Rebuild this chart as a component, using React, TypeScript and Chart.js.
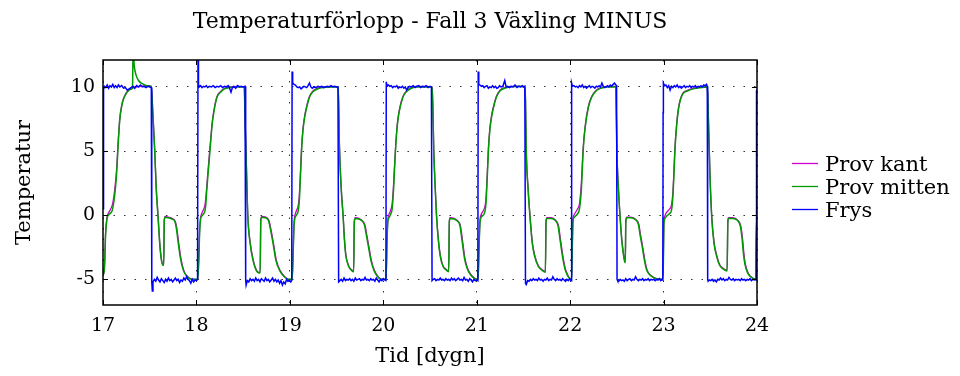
import React, { useEffect, useRef } from "react";
import { Chart, registerables } from "chart.js";

Chart.register(...registerables);

const TITLE = "Temperaturförlopp - Fall 3 Växling MINUS";
const X_LABEL = "Tid [dygn]";
const Y_LABEL = "Temperatur";
const X_TICKS = [17, 18, 19, 20, 21, 22, 23, 24];
const Y_TICKS = [-5, 0, 5, 10];
const SERIES_NAMES = ["Prov kant", "Prov mitten", "Frys"];
const SERIES_COLORS = ["#cc00cc", "#009900", "#0000ff"];

type P = [number, number];

// Prov mitten (green)
const mitten17: P[] = [[17.000,-4.7],[17.015,-4.2],[17.028,-1.5],[17.042,-0.3],[17.057,0.0],[17.08,0.15],[17.10,0.4],[17.115,1.0],[17.13,1.9],[17.146,3.3],[17.163,5.6],[17.18,7.5],[17.20,8.5],[17.217,9.0],[17.25,9.5],[17.29,9.8],[17.316,9.9],[17.322,12.9],[17.335,11.6],[17.355,10.9],[17.38,10.5],[17.42,10.25],[17.47,10.1],[17.515,10.05],[17.535,7.7],[17.553,5.1],[17.57,2.0],[17.589,-0.1],[17.607,-2.2],[17.625,-3.5],[17.643,-3.9],[17.650,-3.9],[17.656,-0.4],[17.665,-0.15],[17.70,-0.2],[17.74,-0.3],[17.77,-0.5],[17.785,-1.0],[17.806,-2.2],[17.83,-3.4],[17.86,-4.3],[17.89,-4.7],[17.93,-4.95],[17.98,-5.0]];
const mitten18: P[] = [[18.015,-5.0],[18.025,-3.5],[18.035,-1.2],[18.045,-0.3],[18.055,-0.1],[18.07,0.05],[18.09,0.3],[18.10,0.8],[18.11,1.9],[18.13,3.7],[18.15,5.5],[18.17,7.2],[18.19,8.2],[18.22,9.2],[18.26,9.6],[18.30,9.85],[18.36,9.95],[18.45,10.0],[18.512,10.0],[18.52,7.6],[18.535,3.7],[18.55,-0.1],[18.575,-2.2],[18.605,-3.5],[18.64,-4.3],[18.67,-4.5],[18.682,-4.5],[18.689,-0.4],[18.70,-0.15],[18.74,-0.2],[18.77,-0.4],[18.79,-1.0],[18.82,-2.2],[18.85,-3.5],[18.89,-4.3],[18.94,-4.8],[18.98,-5.0]];
const mitten19: P[] = [[19.025,-5.0],[19.035,-3.0],[19.045,-0.8],[19.055,-0.2],[19.07,0.0],[19.088,0.3],[19.10,1.0],[19.112,2.8],[19.125,5.0],[19.14,6.6],[19.16,7.7],[19.18,8.4],[19.21,9.2],[19.25,9.65],[19.30,9.85],[19.35,9.95],[19.45,10.0],[19.518,10.0],[19.53,5.5],[19.55,2.0],[19.57,-0.1],[19.585,-2.0],[19.60,-3.2],[19.63,-4.0],[19.66,-4.3],[19.683,-4.4],[19.69,-0.5],[19.70,-0.25],[19.74,-0.3],[19.78,-0.5],[19.80,-0.8],[19.82,-1.6],[19.84,-2.4],[19.87,-3.6],[19.90,-4.3],[19.94,-4.8],[19.98,-5.0]];
const mitten20: P[] = [[20.03,-5.0],[20.04,-2.0],[20.05,-0.4],[20.06,-0.2],[20.08,0.1],[20.095,0.5],[20.11,2.0],[20.125,4.3],[20.145,6.6],[20.16,7.6],[20.18,8.4],[20.21,9.2],[20.25,9.65],[20.30,9.9],[20.36,10.0],[20.45,10.0],[20.523,10.0],[20.53,8.5],[20.54,5.1],[20.555,2.2],[20.57,-0.1],[20.59,-2.0],[20.61,-3.2],[20.64,-4.0],[20.67,-4.25],[20.70,-4.4],[20.707,-0.5],[20.715,-0.25],[20.76,-0.3],[20.80,-0.5],[20.82,-0.8],[20.84,-1.8],[20.87,-3.4],[20.90,-4.2],[20.93,-4.6],[20.97,-4.9],[21.005,-5.0]];
const mitten21: P[] = [[21.015,-5.0],[21.025,-2.5],[21.035,-0.6],[21.045,-0.2],[21.07,0.0],[21.09,0.35],[21.10,1.0],[21.112,2.8],[21.125,5.0],[21.14,6.6],[21.16,7.7],[21.18,8.4],[21.21,9.2],[21.25,9.7],[21.30,9.9],[21.36,10.0],[21.45,10.05],[21.515,10.0],[21.522,9.0],[21.53,5.1],[21.55,2.0],[21.57,-0.1],[21.595,-2.2],[21.62,-3.2],[21.66,-4.0],[21.70,-4.3],[21.735,-4.45],[21.742,-0.5],[21.75,-0.25],[21.80,-0.25],[21.84,-0.4],[21.87,-0.8],[21.89,-1.8],[21.92,-3.3],[21.945,-4.2],[21.96,-4.5],[21.98,-4.8],[22.005,-5.0]];
const mitten22: P[] = [[22.015,-5.0],[22.022,-3.0],[22.03,-0.5],[22.04,-0.2],[22.06,-0.05],[22.08,0.1],[22.10,0.5],[22.12,2.0],[22.14,5.1],[22.16,6.8],[22.195,8.4],[22.23,9.2],[22.28,9.7],[22.33,9.9],[22.40,10.0],[22.488,10.0],[22.495,7.5],[22.50,5.1],[22.517,2.0],[22.534,-0.1],[22.552,-1.9],[22.569,-3.0],[22.583,-3.6],[22.590,-3.7],[22.596,-0.5],[22.605,-0.2],[22.65,-0.2],[22.70,-0.35],[22.73,-0.7],[22.75,-1.6],[22.77,-2.4],[22.80,-3.7],[22.82,-4.3],[22.86,-4.7],[22.92,-4.95],[22.99,-5.0]];
const mitten23: P[] = [[22.997,-4.0],[23.003,-0.8],[23.012,-0.3],[23.03,-0.1],[23.06,0.1],[23.085,0.4],[23.10,1.5],[23.11,3.0],[23.122,5.1],[23.14,7.0],[23.158,8.2],[23.18,9.0],[23.21,9.5],[23.26,9.7],[23.32,9.85],[23.40,9.95],[23.465,10.0],[23.472,9.5],[23.479,7.7],[23.497,3.0],[23.515,-0.1],[23.54,-2.2],[23.568,-3.2],[23.60,-3.9],[23.64,-4.2],[23.68,-4.35],[23.688,-0.5],[23.695,-0.25],[23.74,-0.25],[23.79,-0.4],[23.82,-0.8],[23.84,-1.8],[23.855,-3.0],[23.87,-3.8],[23.90,-4.5],[23.94,-4.85],[23.985,-5.0],[23.992,-2.0],[23.998,-0.35],[24.0,-0.3]];

// Prov kant (magenta)
const kant17: P[] = [[17.000,-4.7],[17.015,-4.1],[17.028,-1.3],[17.042,-0.2],[17.057,0.15],[17.08,0.45],[17.10,0.8],[17.115,1.4],[17.13,2.3],[17.146,3.6],[17.163,5.8],[17.18,7.55],[17.20,8.55],[17.217,9.05],[17.25,9.55],[17.29,9.85],[17.33,9.95],[17.40,10.05],[17.47,10.1],[17.515,10.05],[17.535,7.8],[17.553,5.2],[17.57,2.1],[17.589,0.0],[17.607,-2.1],[17.625,-3.4],[17.643,-3.85],[17.650,-3.85],[17.656,-0.4],[17.665,-0.1],[17.70,-0.15],[17.74,-0.25],[17.775,-0.5],[17.79,-1.0],[17.811,-2.2],[17.835,-3.4],[17.865,-4.3],[17.895,-4.7],[17.935,-4.95],[17.98,-5.0]];
const kant18: P[] = [[18.015,-5.0],[18.025,-3.4],[18.035,-1.0],[18.045,-0.15],[18.055,0.1],[18.07,0.35],[18.09,0.75],[18.10,1.3],[18.11,2.2],[18.13,4.0],[18.15,5.7],[18.17,7.3],[18.19,8.3],[18.22,9.25],[18.26,9.65],[18.30,9.9],[18.36,10.0],[18.45,10.05],[18.512,10.0],[18.52,7.7],[18.535,3.8],[18.55,0.0],[18.575,-2.1],[18.605,-3.4],[18.64,-4.25],[18.67,-4.45],[18.682,-4.45],[18.689,-0.4],[18.70,-0.1],[18.74,-0.15],[18.775,-0.4],[18.795,-1.0],[18.825,-2.2],[18.855,-3.5],[18.895,-4.3],[18.945,-4.8],[18.985,-5.0]];
const kant19: P[] = [[19.025,-5.0],[19.035,-2.8],[19.045,-0.6],[19.055,0.0],[19.07,0.35],[19.088,0.7],[19.10,1.4],[19.112,3.1],[19.125,5.2],[19.14,6.7],[19.16,7.8],[19.18,8.5],[19.21,9.25],[19.25,9.7],[19.30,9.9],[19.35,10.0],[19.45,10.05],[19.518,10.0],[19.53,5.6],[19.55,2.1],[19.57,0.0],[19.585,-1.9],[19.60,-3.1],[19.63,-3.95],[19.66,-4.25],[19.683,-4.35],[19.69,-0.5],[19.70,-0.2],[19.74,-0.25],[19.785,-0.5],[19.805,-0.8],[19.825,-1.6],[19.845,-2.4],[19.875,-3.6],[19.905,-4.3],[19.945,-4.8],[19.985,-5.0]];
const kant20: P[] = [[20.03,-5.0],[20.04,-1.8],[20.05,-0.3],[20.06,0.05],[20.08,0.4],[20.095,0.9],[20.11,2.4],[20.125,4.5],[20.145,6.7],[20.16,7.7],[20.18,8.5],[20.21,9.25],[20.25,9.7],[20.30,9.95],[20.36,10.05],[20.45,10.05],[20.523,10.0],[20.53,8.6],[20.54,5.2],[20.555,2.3],[20.57,0.0],[20.59,-1.9],[20.61,-3.1],[20.64,-3.95],[20.67,-4.2],[20.70,-4.35],[20.707,-0.5],[20.715,-0.2],[20.76,-0.25],[20.805,-0.5],[20.825,-0.8],[20.845,-1.8],[20.875,-3.4],[20.905,-4.2],[20.935,-4.6],[20.975,-4.9],[21.005,-5.0]];
const kant21: P[] = [[21.015,-5.0],[21.025,-2.3],[21.035,-0.4],[21.045,0.0],[21.07,0.35],[21.09,0.75],[21.10,1.4],[21.112,3.1],[21.125,5.2],[21.14,6.7],[21.16,7.8],[21.18,8.5],[21.21,9.25],[21.25,9.75],[21.30,9.95],[21.36,10.05],[21.45,10.05],[21.515,10.0],[21.522,9.0],[21.53,5.2],[21.55,2.1],[21.57,0.0],[21.595,-2.1],[21.62,-3.1],[21.66,-3.95],[21.70,-4.25],[21.735,-4.4],[21.742,-0.5],[21.75,-0.2],[21.80,-0.2],[21.845,-0.4],[21.875,-0.8],[21.895,-1.8],[21.925,-3.3],[21.95,-4.2],[21.965,-4.5],[21.985,-4.8],[22.008,-5.0]];
const kant22: P[] = [[22.015,-5.0],[22.022,-2.8],[22.03,-0.35],[22.04,0.0],[22.06,0.25],[22.08,0.5],[22.10,0.9],[22.12,2.5],[22.14,5.3],[22.16,6.9],[22.195,8.5],[22.23,9.25],[22.28,9.75],[22.33,9.95],[22.40,10.05],[22.488,10.05],[22.495,7.6],[22.50,5.2],[22.517,2.1],[22.534,0.0],[22.552,-1.8],[22.569,-2.9],[22.583,-3.55],[22.590,-3.65],[22.596,-0.5],[22.605,-0.15],[22.65,-0.15],[22.705,-0.35],[22.735,-0.7],[22.755,-1.6],[22.775,-2.4],[22.805,-3.7],[22.825,-4.3],[22.865,-4.7],[22.925,-4.95],[22.99,-5.0]];
const kant23: P[] = [[22.997,-3.8],[23.003,-0.6],[23.012,-0.1],[23.03,0.2],[23.06,0.45],[23.085,0.8],[23.10,1.8],[23.11,3.3],[23.122,5.3],[23.14,7.1],[23.158,8.3],[23.18,9.05],[23.21,9.55],[23.26,9.75],[23.32,9.9],[23.40,10.0],[23.465,10.05],[23.472,9.5],[23.479,7.8],[23.497,3.1],[23.515,0.0],[23.54,-2.1],[23.568,-3.1],[23.60,-3.85],[23.64,-4.15],[23.68,-4.3],[23.688,-0.5],[23.695,-0.2],[23.74,-0.2],[23.795,-0.4],[23.825,-0.8],[23.845,-1.8],[23.86,-3.0],[23.875,-3.8],[23.905,-4.5],[23.945,-4.85],[23.985,-5.0],[23.992,-1.8],[23.998,0.0],[24.0,0.0]];

// Frys (blue)
const frys17: P[] = [[17.000,0.5],[17.006,9.8],[17.015,10.05],[17.03,9.95],[17.045,10.15],[17.06,9.9],[17.075,10.1],[17.09,10.0],[17.105,10.2],[17.12,9.95],[17.135,10.1],[17.15,9.95],[17.165,10.15],[17.18,10.0],[17.20,10.1],[17.22,9.9],[17.24,9.95],[17.26,9.75],[17.28,9.85],[17.30,9.95],[17.32,10.05],[17.34,9.9],[17.36,10.1],[17.38,10.0],[17.40,10.15],[17.42,10.0],[17.44,10.05],[17.46,9.95],[17.48,10.05],[17.50,10.0],[17.517,9.95],[17.522,-5.2],[17.528,-5.9],[17.535,-5.2],[17.55,-5.0],[17.565,-5.15],[17.58,-4.85],[17.595,-5.05],[17.61,-5.2],[17.625,-4.95],[17.64,-5.1],[17.655,-5.25],[17.67,-5.0],[17.685,-5.15],[17.70,-4.9],[17.715,-5.1],[17.73,-5.0],[17.745,-5.2],[17.76,-5.05],[17.775,-4.9],[17.79,-5.1],[17.805,-5.0],[17.82,-5.25],[17.835,-5.05],[17.85,-5.15],[17.865,-4.9],[17.88,-5.05],[17.895,-4.8],[17.91,-5.0],[17.925,-5.1],[17.94,-5.3],[17.955,-5.0],[17.97,-5.2],[17.985,-5.05],[18.0,-5.1],[18.012,-5.0]];
const frys18: P[] = [[18.017,12.8],[18.022,10.2],[18.03,10.0],[18.045,10.1],[18.06,9.95],[18.075,10.05],[18.09,10.0],[18.105,10.1],[18.12,9.95],[18.14,10.05],[18.16,10.0],[18.18,10.1],[18.20,9.95],[18.22,10.05],[18.24,10.0],[18.26,10.1],[18.28,9.95],[18.30,10.05],[18.32,10.0],[18.34,10.1],[18.355,9.9],[18.37,9.6],[18.385,9.95],[18.40,10.05],[18.42,9.9],[18.44,10.1],[18.46,10.0],[18.48,10.05],[18.50,10.0],[18.52,10.05],[18.527,-5.0],[18.532,-5.45],[18.545,-5.1],[18.56,-5.2],[18.575,-4.95],[18.59,-5.1],[18.605,-5.0],[18.62,-5.15],[18.635,-4.9],[18.65,-5.1],[18.665,-5.0],[18.68,-5.2],[18.695,-4.95],[18.71,-5.05],[18.725,-5.15],[18.74,-4.9],[18.755,-5.1],[18.77,-5.0],[18.785,-5.2],[18.80,-5.05],[18.815,-4.9],[18.83,-5.15],[18.845,-5.0],[18.86,-5.2],[18.875,-5.05],[18.89,-5.3],[18.905,-5.1],[18.92,-5.45],[18.935,-5.2],[18.95,-5.35],[18.965,-5.0],[18.98,-5.15],[18.995,-5.05],[19.01,-5.2],[19.02,-5.1]];
const frys19: P[] = [[19.024,11.2],[19.03,10.3],[19.045,10.2],[19.06,10.15],[19.075,10.0],[19.09,9.95],[19.105,10.0],[19.12,9.85],[19.135,9.95],[19.15,10.05],[19.165,10.0],[19.18,9.95],[19.195,10.1],[19.21,10.3],[19.225,10.0],[19.24,9.9],[19.26,10.0],[19.28,9.95],[19.30,10.05],[19.32,10.0],[19.34,10.05],[19.36,9.95],[19.38,10.0],[19.40,10.05],[19.42,10.0],[19.44,10.1],[19.46,10.0],[19.48,10.05],[19.50,10.0],[19.515,10.0],[19.522,-5.2],[19.535,-5.1],[19.55,-5.0],[19.565,-5.15],[19.58,-4.9],[19.595,-5.1],[19.61,-5.0],[19.625,-5.05],[19.64,-4.95],[19.655,-5.1],[19.67,-5.0],[19.685,-5.15],[19.70,-4.9],[19.715,-5.05],[19.73,-5.0],[19.745,-4.95],[19.76,-5.1],[19.775,-5.0],[19.79,-5.05],[19.805,-4.85],[19.82,-5.05],[19.835,-5.0],[19.85,-5.1],[19.865,-4.95],[19.88,-5.05],[19.895,-5.0],[19.91,-5.15],[19.925,-4.9],[19.94,-5.05],[19.955,-5.2],[19.97,-5.0],[19.985,-5.1],[20.0,-4.95],[20.015,-5.05],[20.028,-5.1]];
const frys20: P[] = [[20.032,10.4],[20.04,10.1],[20.055,10.15],[20.07,10.05],[20.085,10.1],[20.10,9.95],[20.115,10.05],[20.13,10.0],[20.145,10.1],[20.16,9.9],[20.175,10.0],[20.19,9.95],[20.205,10.05],[20.22,9.9],[20.235,10.0],[20.25,9.75],[20.265,9.95],[20.28,10.05],[20.30,10.0],[20.32,10.1],[20.34,9.95],[20.36,10.05],[20.38,10.1],[20.40,9.95],[20.42,10.05],[20.44,10.0],[20.46,10.1],[20.48,9.95],[20.50,10.05],[20.515,10.0],[20.522,-5.1],[20.535,-5.0],[20.55,-4.95],[20.565,-5.1],[20.58,-5.0],[20.595,-5.05],[20.61,-4.9],[20.625,-5.05],[20.64,-5.0],[20.655,-5.1],[20.67,-4.95],[20.685,-5.05],[20.70,-5.0],[20.715,-5.1],[20.73,-4.9],[20.745,-5.05],[20.76,-4.95],[20.775,-5.1],[20.79,-5.0],[20.805,-4.9],[20.82,-5.05],[20.835,-5.0],[20.85,-5.1],[20.865,-4.85],[20.88,-5.05],[20.895,-5.0],[20.91,-5.15],[20.925,-4.95],[20.94,-5.05],[20.955,-5.2],[20.97,-5.0],[20.985,-5.1],[21.0,-5.05],[21.012,-5.1]];
const frys21: P[] = [[21.016,11.2],[21.022,10.2],[21.035,10.15],[21.05,10.05],[21.065,10.1],[21.08,9.95],[21.095,10.05],[21.11,10.1],[21.125,9.9],[21.14,10.0],[21.155,9.95],[21.17,10.1],[21.185,9.95],[21.20,10.05],[21.215,9.9],[21.23,9.95],[21.245,10.1],[21.26,10.0],[21.28,10.05],[21.30,10.5],[21.315,10.0],[21.33,10.05],[21.35,9.95],[21.37,10.05],[21.39,10.0],[21.41,10.15],[21.43,9.95],[21.45,10.05],[21.47,10.0],[21.49,10.1],[21.505,10.0],[21.515,10.05],[21.522,-5.3],[21.53,-5.4],[21.545,-5.1],[21.56,-5.15],[21.575,-5.0],[21.59,-5.1],[21.605,-4.95],[21.62,-5.05],[21.635,-5.0],[21.65,-5.1],[21.665,-4.9],[21.68,-5.05],[21.695,-5.0],[21.71,-5.15],[21.725,-5.0],[21.74,-5.05],[21.755,-4.9],[21.77,-5.1],[21.785,-5.0],[21.80,-5.05],[21.815,-4.8],[21.83,-5.0],[21.845,-5.1],[21.86,-4.95],[21.875,-5.05],[21.89,-5.0],[21.905,-5.1],[21.92,-4.95],[21.935,-5.05],[21.95,-5.15],[21.965,-5.0],[21.98,-5.1],[21.995,-4.95],[22.01,-5.1],[22.014,-5.0]];
const frys22: P[] = [[22.018,10.3],[22.025,10.05],[22.04,10.1],[22.055,10.0],[22.07,10.05],[22.085,9.95],[22.10,10.1],[22.115,10.0],[22.13,10.15],[22.145,9.95],[22.16,10.05],[22.175,9.9],[22.19,10.0],[22.205,10.1],[22.22,9.95],[22.235,10.05],[22.25,10.0],[22.265,9.9],[22.28,10.05],[22.295,10.0],[22.31,10.1],[22.325,10.0],[22.34,10.3],[22.355,10.05],[22.37,9.95],[22.385,10.0],[22.40,10.1],[22.415,10.0],[22.43,10.15],[22.445,10.05],[22.46,10.2],[22.475,10.3],[22.49,10.15],[22.497,10.1],[22.502,-5.0],[22.508,-5.1],[22.52,-5.15],[22.535,-5.0],[22.55,-5.1],[22.565,-5.05],[22.58,-5.15],[22.595,-4.95],[22.61,-5.1],[22.625,-5.0],[22.64,-4.95],[22.655,-5.1],[22.67,-5.0],[22.685,-5.05],[22.70,-4.8],[22.715,-5.0],[22.73,-5.1],[22.745,-5.0],[22.76,-5.05],[22.775,-4.95],[22.79,-5.1],[22.805,-5.0],[22.82,-5.05],[22.835,-4.95],[22.85,-5.1],[22.865,-5.0],[22.88,-5.05],[22.895,-5.0],[22.91,-5.1],[22.925,-5.0],[22.94,-5.05],[22.955,-4.95],[22.97,-5.1],[22.985,-5.0],[22.992,-5.05]];
const frys23: P[] = [[22.995,8.0],[22.998,10.3],[23.01,10.1],[23.025,10.15],[23.04,9.95],[23.055,10.1],[23.07,9.75],[23.085,10.05],[23.10,9.95],[23.115,10.1],[23.13,10.0],[23.145,10.15],[23.16,9.95],[23.175,10.05],[23.19,9.9],[23.205,10.0],[23.22,10.1],[23.235,9.95],[23.25,10.05],[23.265,10.0],[23.28,10.1],[23.295,9.95],[23.31,10.05],[23.325,10.0],[23.34,10.1],[23.355,9.95],[23.37,10.05],[23.385,10.0],[23.40,10.1],[23.415,10.0],[23.43,10.15],[23.445,10.1],[23.46,10.2],[23.468,10.05],[23.472,-5.0],[23.477,-5.15],[23.49,-5.05],[23.505,-5.1],[23.52,-5.0],[23.535,-5.15],[23.55,-5.05],[23.565,-5.2],[23.58,-5.0],[23.595,-5.05],[23.61,-4.9],[23.625,-5.05],[23.64,-4.95],[23.655,-5.1],[23.67,-5.0],[23.685,-5.05],[23.70,-4.85],[23.715,-5.0],[23.73,-5.05],[23.745,-4.95],[23.76,-5.1],[23.775,-5.0],[23.79,-5.05],[23.805,-5.0],[23.82,-5.1],[23.835,-4.95],[23.85,-5.05],[23.865,-5.0],[23.88,-5.1],[23.895,-5.0],[23.91,-5.05],[23.925,-4.95],[23.94,-5.1],[23.955,-5.0],[23.97,-5.05],[23.985,-5.0],[23.99,-5.05],[23.995,9.7],[24.0,9.8]];

const kant: P[] = [...kant17, ...kant18, ...kant19, ...kant20, ...kant21, ...kant22, ...kant23];
const mitten: P[] = [...mitten17, ...mitten18, ...mitten19, ...mitten20, ...mitten21, ...mitten22, ...mitten23];
const frys: P[] = [...frys17, ...frys18, ...frys19, ...frys20, ...frys21, ...frys22, ...frys23];

const FONT = "'DejaVu Serif', serif";

const toXY = (arr: P[]) => arr.map(([x, y]) => ({ x, y }));

const framePlugin = {
  id: "frameAndLegend",
  afterDatasetsDraw(chart: any) {
    const { ctx, chartArea: a, scales } = chart;
    ctx.save();
    ctx.strokeStyle = "#000";
    ctx.lineWidth = 1.5;
    ctx.strokeRect(a.left, a.top, a.right - a.left, a.bottom - a.top);
    ctx.lineWidth = 1;
    const tl = 5;
    const seg = (x1: number, y1: number, x2: number, y2: number) => {
      ctx.beginPath();
      ctx.moveTo(x1, y1);
      ctx.lineTo(x2, y2);
      ctx.stroke();
    };
    for (const v of X_TICKS) {
      const x = Math.round(scales.x.getPixelForValue(v)) + 0.5;
      seg(x, a.bottom, x, a.bottom - tl);
      seg(x, a.top, x, a.top + tl);
    }
    for (const v of Y_TICKS) {
      const y = Math.round(scales.y.getPixelForValue(v)) + 0.5;
      seg(a.left, y, a.left + tl, y);
      seg(a.right, y, a.right - tl, y);
    }
    // legend
    const ds = chart.data.datasets;
    const lx0 = a.right + 35;
    const lx1 = a.right + 61;
    const ly0 = (a.top + a.bottom) / 2 - 19;
    ctx.font = `21px ${FONT}`;
    ctx.textAlign = "left";
    ctx.textBaseline = "alphabetic";
    ds.forEach((d: any, i: number) => {
      const y = ly0 + i * 23;
      ctx.strokeStyle = d.borderColor;
      ctx.lineWidth = 1.3;
      seg(lx0, y, lx1, y);
      ctx.fillStyle = "#000";
      ctx.fillText(d.label, a.right + 68, y + 7.5);
    });
    ctx.restore();
  },
};

export default function App() {
  const ref = useRef<HTMLCanvasElement | null>(null);
  useEffect(() => {
    if (!ref.current) return;
    const chart = new Chart(ref.current, {
      type: "line",
      data: {
        datasets: [
          {
            label: SERIES_NAMES[0],
            data: toXY(kant),
            borderColor: SERIES_COLORS[0],
            borderWidth: 1.3,
            pointRadius: 0,
            cubicInterpolationMode: "monotone",
            order: 3,
          },
          {
            label: SERIES_NAMES[1],
            data: toXY(mitten),
            borderColor: SERIES_COLORS[1],
            borderWidth: 1.5,
            pointRadius: 0,
            cubicInterpolationMode: "monotone",
            order: 2,
          },
          {
            label: SERIES_NAMES[2],
            data: toXY(frys),
            borderColor: SERIES_COLORS[2],
            borderWidth: 1.5,
            pointRadius: 0,
            tension: 0,
            order: 1,
          },
        ] as any,
      },
      options: {
        responsive: false,
        animation: false,
        devicePixelRatio: 1,
        layout: { padding: { left: 0, right: 203, top: 0, bottom: 0 } },
        plugins: {
          legend: { display: false },
          tooltip: { enabled: false },
          title: {
            display: true,
            text: TITLE,
            fullSize: false,
            color: "#000",
            font: { family: FONT, size: 22, weight: "normal" as any },
            padding: { top: 9.5, bottom: 24.1 },
          },
        },
        scales: {
          x: {
            type: "linear",
            min: 17,
            max: 24,
            afterBuildTicks: (s: any) => {
              s.ticks = X_TICKS.map((v) => ({ value: v }));
            },
            afterFit: (s: any) => {
              s.height = 71;
            },
            ticks: {
              color: "#000",
              font: { family: FONT, size: 19 },
              padding: 10,
              maxRotation: 0,
              autoSkip: false,
            },
            grid: { color: "#333", lineWidth: 1, drawTicks: false },
            border: { display: false, dash: [1.5, 9] },
            title: {
              display: true,
              text: X_LABEL,
              color: "#000",
              font: { family: FONT, size: 21 },
              padding: { top: 0, bottom: 6.4 },
            },
          },
          y: {
            type: "linear",
            min: -7,
            max: 12.1,
            afterBuildTicks: (s: any) => {
              s.ticks = Y_TICKS.map((v) => ({ value: v }));
            },
            afterFit: (s: any) => {
              s.width = 103;
            },
            ticks: {
              color: "#000",
              font: { family: FONT, size: 19 },
              padding: 8,
            },
            grid: { color: "#333", lineWidth: 1, drawTicks: false },
            border: { display: false, dash: [1.5, 9] },
            title: {
              display: true,
              text: Y_LABEL,
              color: "#000",
              font: { family: FONT, size: 21 },
              padding: { top: 12, bottom: 0 },
            },
          },
        },
      } as any,
      plugins: [framePlugin],
    });
    return () => chart.destroy();
  }, []);
  return (
    <div style={{ position: "absolute", left: 0, top: 0, width: 960, height: 376, background: "#fff" }}>
      <canvas ref={ref} width={960} height={376} style={{ width: 960, height: 376 }} />
    </div>
  );
}
